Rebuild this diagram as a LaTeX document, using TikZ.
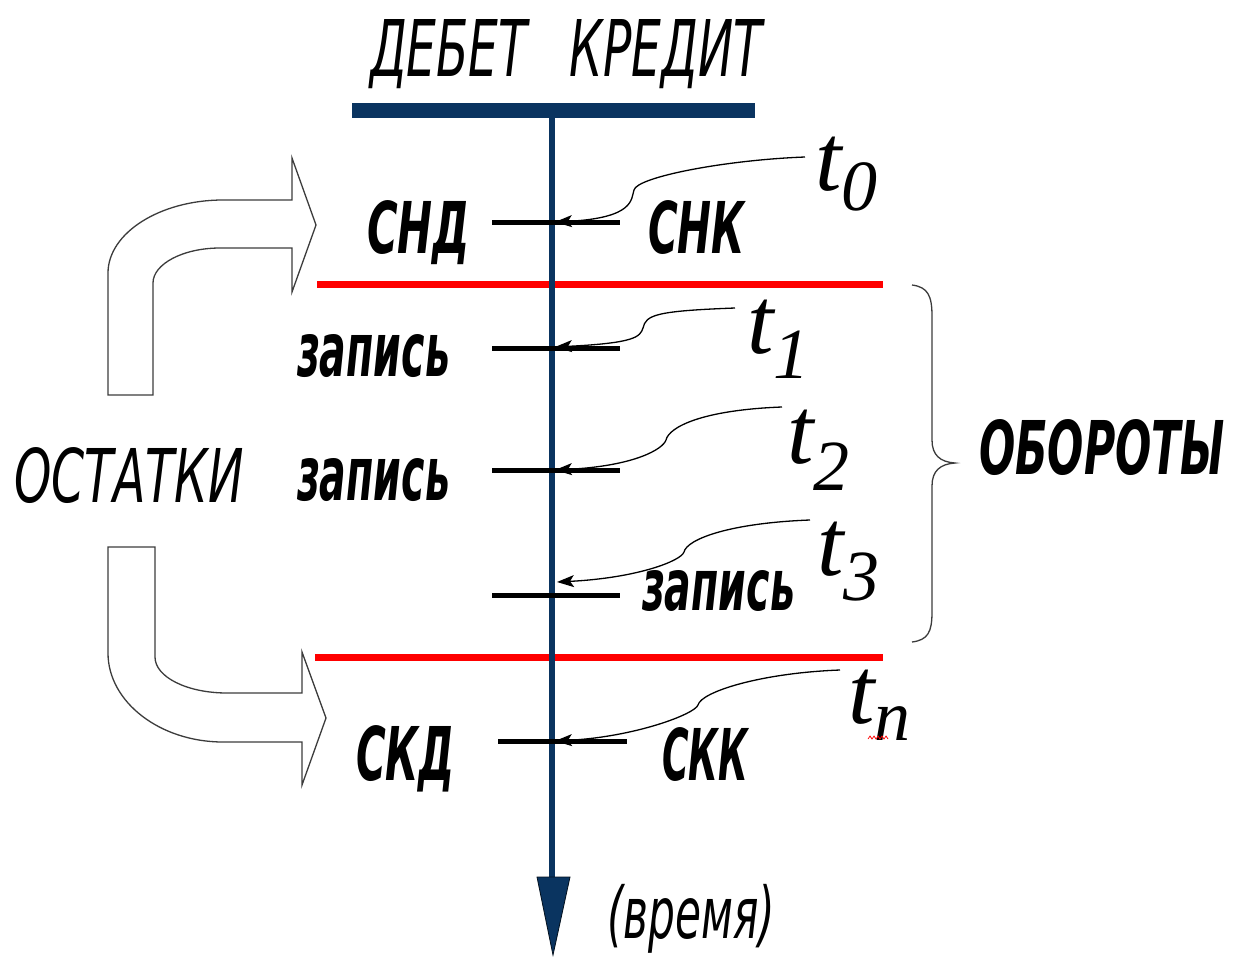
\documentclass[tikz,border=0pt]{standalone}
\usepackage{fontspec}
\usepackage{graphicx}
\usetikzlibrary{arrows.meta,calc}
\newfontfamily\gost{DejaVu Sans}
\newfontfamily\tserif{Liberation Serif}
\definecolor{navy}{RGB}{10,52,96}
\definecolor{outl}{RGB}{60,60,60}
\newcommand\fitbox[3]{\resizebox{#1pt}{#2pt}{#3}}
\newcommand\fitboxt[3]{\resizebox*{#1pt}{#2pt}{#3}}
\newcommand\tlab[2]{{\tserif\itshape\fontsize{95}{95}\selectfont t}\raisebox{-#2pt}{\tserif\itshape\fontsize{72}{72}\selectfont #1}}
\newcommand\leaderpath[3]{\draw[leaderline] (#1) .. controls ($(#1)+(-80,3)$) and ($(#2)+(3,-13)$) .. (#2) .. controls ($(#2)+(-3,9)$) and ($(#3)+(80,-4)$) .. (#3);}
\begin{document}
\begin{tikzpicture}[x=1pt,y=-1pt,
  lab/.style={inner sep=0pt,outer sep=0pt},
  tickline/.style={line width=5pt,black},
  redline/.style={line width=7pt,red},
  leaderline/.style={line width=1.3pt,black,-{Stealth[length=17pt,width=12pt,inset=4pt]}},
  blockarrow/.style={line width=1.3pt,draw=outl,fill=white,line join=miter},
  bracestyle/.style={line width=1.3pt,draw=outl}]
\path[use as bounding box,fill=white] (0,0) rectangle (1245,956);

% block arrows
\draw[blockarrow] (108,395) -- (108,273) .. controls (108,233) and (160,200) .. (223,200) -- (292,200) -- (292,158) -- (316,225) -- (292,292) -- (292,248) -- (220,248) .. controls (183,248) and (153,264) .. (153,283) -- (153,395) -- cycle;
\draw[blockarrow] (108,547) -- (155,547) -- (155,657) .. controls (155,677) and (187,693) .. (227,693) -- (302,693) -- (302,652) -- (326,718) -- (302,785) -- (302,742) -- (223,742) .. controls (160,742) and (108,702) .. (108,653) -- cycle;

% brace
\draw[bracestyle] (912,285) .. controls (928,287) and (932,296) .. (932,316) -- (932,440) .. controls (932,455) and (940,462) .. (955,463) .. controls (940,464) and (932,471) .. (932,486) -- (932,612) .. controls (932,632) and (928,640) .. (912,642);

% red period lines
\coordinate (r1a) at (317,284); \coordinate (r1b) at (883,284);
\coordinate (r2a) at (315,657); \coordinate (r2b) at (883,657);
\draw[redline] (r1a) -- (r1b);
\draw[redline] (r2a) -- (r2b);

% top bar and time axis
\coordinate (bara) at (352,110); \coordinate (barb) at (755,110);
\coordinate (axtop) at (552,110); \coordinate (axend) at (552,880);
\coordinate (tipL) at (537,877); \coordinate (tipR) at (570,877); \coordinate (tip) at (553,955);
\draw[navy,line width=6pt] (axtop) -- (axend);
\draw[navy,line width=15pt] (bara) -- (barb);
\filldraw[fill=navy,draw=black!70!navy,line width=0.8pt,line join=miter] (tipL) -- (tipR) -- (tip) -- cycle;

% ticks
\coordinate (k0a) at (492,222); \coordinate (k0b) at (620,222);
\coordinate (k1a) at (492,348); \coordinate (k1b) at (620,348);
\coordinate (k2a) at (492,470); \coordinate (k2b) at (620,470);
\coordinate (k3a) at (492,595); \coordinate (k3b) at (620,595);
\coordinate (kna) at (498,741); \coordinate (knb) at (627,741);
\foreach \k in {0,1,2,3,n} {\draw[tickline] (k\k a) -- (k\k b);}

% t labels
\node[lab,anchor=base west] (t0) at (815,190) {\tlab{0}{20}};
\node[lab,anchor=base west] (t1) at (747,353) {\tlab{1}{25}};
\node[lab,anchor=base west] (t2) at (787,463) {\tlab{2}{27}};
\node[lab,anchor=base west] (t3) at (817,575) {\tlab{3}{25}};
\node[lab,anchor=base west] (tn) at (848,723) {\tlab{n}{17}};
\draw[red,line width=0.7pt] (868,739) -- (870,736) -- (872,739) -- (874,736) -- (876,739) -- (878,736) -- (880,739) -- (882,736) -- (884,739) -- (886,736) -- (888,739);

% leaders
\coordinate (s0) at (805,157); \coordinate (w0) at (634,190); \coordinate (e0) at (555,222);
\coordinate (s1) at (735,308); \coordinate (w1) at (643,328); \coordinate (e1) at (555,347);
\coordinate (s2) at (782,407); \coordinate (w2) at (666,440); \coordinate (e2) at (555,470);
\coordinate (s3) at (810,520); \coordinate (w3) at (684,552); \coordinate (e3) at (557,582);
\coordinate (sn) at (840,670); \coordinate (wn) at (698,705); \coordinate (en) at (555,741);
\leaderpath{s0}{w0}{e0}
\leaderpath{s1}{w1}{e1}
\leaderpath{s2}{w2}{e2}
\leaderpath{s3}{w3}{e3}
\leaderpath{sn}{wn}{en}

% texts
\node[lab,anchor=north west] (title) at (370,19) {\fitbox{392}{57}{\gost\itshape ДЕБЕТ\hspace{0.9em}КРЕДИТ}};
\node[lab,anchor=north west] (snd) at (367,200) {\fitbox{103}{53}{\gost\bfseries\itshape СНД}};
\node[lab,anchor=north west] (snk) at (648,200) {\fitbox{97}{53}{\gost\bfseries\itshape СНК}};
\node[lab,anchor=north west] (zap1) at (297,334) {\fitbox{153}{42}{\gost\bfseries\itshape запись}};
\node[lab,anchor=north west] (zap2) at (297,458) {\fitbox{153}{42}{\gost\bfseries\itshape запись}};
\node[lab,anchor=north west] (zap3) at (642,570) {\fitbox{153}{40}{\gost\bfseries\itshape запись}};
\node[lab,anchor=north west] (skd) at (356,725) {\fitbox{99}{55}{\gost\bfseries\itshape СКД}};
\node[lab,anchor=north west] (skk) at (662,727) {\fitbox{86}{53}{\gost\bfseries\itshape СКК}};
\node[lab,anchor=north west] (ost) at (14,447) {\fitbox{230}{55}{\gost\itshape ОСТАТКИ}};
\node[lab,anchor=north west] (obo) at (979,419) {\fitbox{246}{55}{\gost\bfseries\itshape ОБОРОТЫ}};
\node[lab,anchor=north west] (vrem) at (607,884) {\fitboxt{168}{69}{\gost\itshape (время)}};
\end{tikzpicture}
\end{document}
